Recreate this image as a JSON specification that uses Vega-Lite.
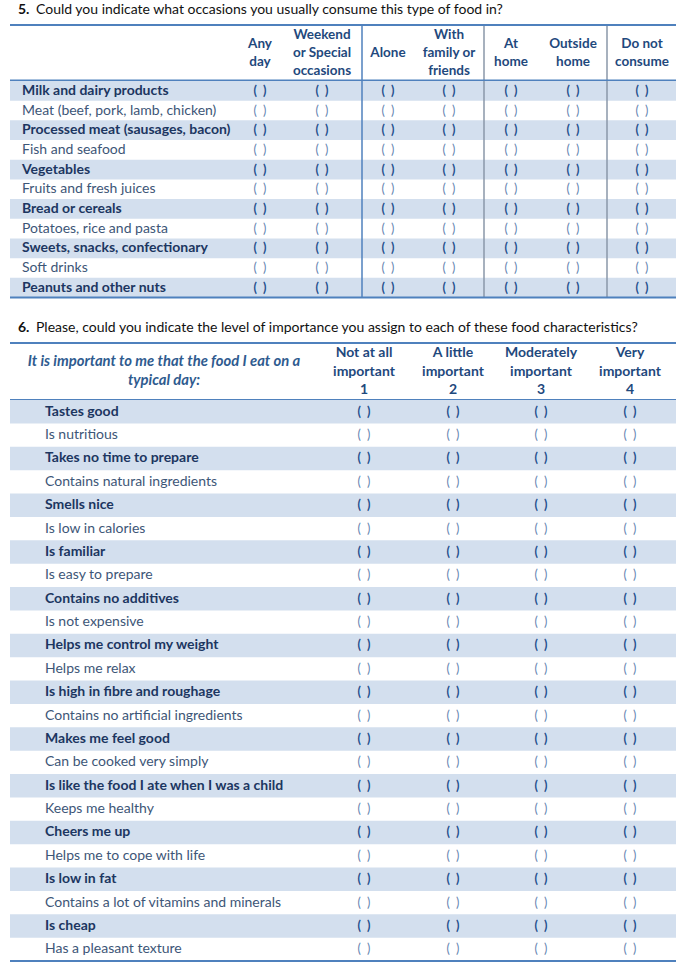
{
"$schema": "https://vega.github.io/schema/vega-lite/v6.json",
"padding": 0,
"spacing": 0,
"bounds": "flush",
"background": "white",
"config": {"view": {"stroke": null}, "text": {"font": "Lato", "fontSize": 14}, "concat": {"spacing": 0}},
"datasets": {
 "t5": [{"n": "5.", "q": "Could you indicate what occasions you usually consume this type of food in?"}],
 "t6": [{"n": "6.", "q": "Please, could you indicate the level of importance you assign to each of these food characteristics?"}],
 "frame": [{"e": 0}, {"e": 1}],
 "h5": [
  {"c": 1, "l": 1.5, "h": "Any"}, {"c": 1, "l": 2.5, "h": "day"},
  {"c": 2, "l": 1, "h": "Weekend"}, {"c": 2, "l": 2, "h": "or Special"}, {"c": 2, "l": 3, "h": "occasions"},
  {"c": 3, "l": 2, "h": "Alone"},
  {"c": 4, "l": 1, "h": "With"}, {"c": 4, "l": 2, "h": "family or"}, {"c": 4, "l": 3, "h": "friends"},
  {"c": 5, "l": 1.5, "h": "At"}, {"c": 5, "l": 2.5, "h": "home"},
  {"c": 6, "l": 1.5, "h": "Outside"}, {"c": 6, "l": 2.5, "h": "home"},
  {"c": 7, "l": 1.5, "h": "Do not"}, {"c": 7, "l": 2.5, "h": "consume"}
 ],
 "v5": [{"c": 2.5, "k": 1}, {"c": 4.5, "k": 2}, {"c": 6.5, "k": 2}],
 "i5": [
  {"r": 1, "t": "Milk and dairy products", "o": [1,2,3,4,5,6,7]},
  {"r": 2, "t": "Meat (beef, pork, lamb, chicken)", "o": [1,2,3,4,5,6,7]},
  {"r": 3, "t": "Processed meat (sausages, bacon)", "o": [1,2,3,4,5,6,7]},
  {"r": 4, "t": "Fish and seafood", "o": [1,2,3,4,5,6,7]},
  {"r": 5, "t": "Vegetables", "o": [1,2,3,4,5,6,7]},
  {"r": 6, "t": "Fruits and fresh juices", "o": [1,2,3,4,5,6,7]},
  {"r": 7, "t": "Bread or cereals", "o": [1,2,3,4,5,6,7]},
  {"r": 8, "t": "Potatoes, rice and pasta", "o": [1,2,3,4,5,6,7]},
  {"r": 9, "t": "Sweets, snacks, confectionary", "o": [1,2,3,4,5,6,7]},
  {"r": 10, "t": "Soft drinks", "o": [1,2,3,4,5,6,7]},
  {"r": 11, "t": "Peanuts and other nuts", "o": [1,2,3,4,5,6,7]}
 ],
 "h6": [
  {"c": 0.5, "l": 1.5, "h": "It is important to me that the food I eat on a"},
  {"c": 0.5, "l": 2.5, "h": "typical day:"},
  {"c": 1, "l": 1, "h": "Not at all"}, {"c": 1, "l": 2, "h": "important"}, {"c": 1, "l": 3, "h": "1"},
  {"c": 2, "l": 1, "h": "A little"}, {"c": 2, "l": 2, "h": "important"}, {"c": 2, "l": 3, "h": "2"},
  {"c": 3, "l": 1, "h": "Moderately"}, {"c": 3, "l": 2, "h": "important"}, {"c": 3, "l": 3, "h": "3"},
  {"c": 4, "l": 1, "h": "Very"}, {"c": 4, "l": 2, "h": "important"}, {"c": 4, "l": 3, "h": "4"}
 ],
 "i6": [
  {"r": 1, "t": "Tastes good", "o": [1,2,3,4]},
  {"r": 2, "t": "Is nutritious", "o": [1,2,3,4]},
  {"r": 3, "t": "Takes no time to prepare", "o": [1,2,3,4]},
  {"r": 4, "t": "Contains natural ingredients", "o": [1,2,3,4]},
  {"r": 5, "t": "Smells nice", "o": [1,2,3,4]},
  {"r": 6, "t": "Is low in calories", "o": [1,2,3,4]},
  {"r": 7, "t": "Is familiar", "o": [1,2,3,4]},
  {"r": 8, "t": "Is easy to prepare", "o": [1,2,3,4]},
  {"r": 9, "t": "Contains no additives", "o": [1,2,3,4]},
  {"r": 10, "t": "Is not expensive", "o": [1,2,3,4]},
  {"r": 11, "t": "Helps me control my weight", "o": [1,2,3,4]},
  {"r": 12, "t": "Helps me relax", "o": [1,2,3,4]},
  {"r": 13, "t": "Is high in fibre and roughage", "o": [1,2,3,4]},
  {"r": 14, "t": "Contains no artificial ingredients", "o": [1,2,3,4]},
  {"r": 15, "t": "Makes me feel good", "o": [1,2,3,4]},
  {"r": 16, "t": "Can be cooked very simply", "o": [1,2,3,4]},
  {"r": 17, "t": "Is like the food I ate when I was a child", "o": [1,2,3,4]},
  {"r": 18, "t": "Keeps me healthy", "o": [1,2,3,4]},
  {"r": 19, "t": "Cheers me up", "o": [1,2,3,4]},
  {"r": 20, "t": "Helps me to cope with life", "o": [1,2,3,4]},
  {"r": 21, "t": "Is low in fat", "o": [1,2,3,4]},
  {"r": 22, "t": "Contains a lot of vitamins and minerals", "o": [1,2,3,4]},
  {"r": 23, "t": "Is cheap", "o": [1,2,3,4]},
  {"r": 24, "t": "Has a pleasant texture", "o": [1,2,3,4]}
 ]
},
"vconcat": [
 {
  "width": 685, "height": 25,
  "data": {"name": "t5"},
  "layer": [
   {"mark": {"type": "text", "align": "left", "baseline": "middle", "fontWeight": "bold", "fontSize": 14, "color": "#111111", "dx": 8, "dy": -2.5},
    "encoding": {"x": {"datum": -1, "type": "quantitative", "axis": null, "scale": {"type": "linear", "domain": [-1,0,1,2,2.5,3,4,4.5,5,6,6.5,7,8], "range": [10,22,260,322,362,388,449,484,511,573,607,642,676], "nice": false, "zero": false}}, "text": {"field": "n"}}},
   {"mark": {"type": "text", "align": "left", "baseline": "middle", "fontSize": 14, "color": "#111111", "dx": 26, "dy": -2.5},
    "encoding": {"x": {"datum": -1, "type": "quantitative", "axis": null, "scale": {"type": "linear", "domain": [-1,0,1,2,2.5,3,4,4.5,5,6,6.5,7,8], "range": [10,22,260,322,362,388,449,484,511,573,607,642,676], "nice": false, "zero": false}}, "text": {"field": "q"}}}
  ]
 },
 {
  "width": 685, "height": 55.5,
  "resolve": {"scale": {"y": "independent"}},
  "layer": [
   {"data": {"name": "v5"},
    "mark": {"type": "rule", "strokeWidth": 1.5},
    "encoding": {"x": {"field": "c", "type": "quantitative", "axis": null, "scale": {"type": "linear", "domain": [-1,0,1,2,2.5,3,4,4.5,5,6,6.5,7,8], "range": [10,22,260,322,362,388,449,484,511,573,607,642,676], "nice": false, "zero": false}},
     "color": {"condition": {"test": "datum.k == 1", "value": "#4F81BD"}, "value": "#8A97A8"}}},
   {"data": {"name": "frame"},
    "mark": {"type": "rule", "strokeWidth": 2, "color": "#4F81BD"},
    "encoding": {"x": {"datum": -1, "type": "quantitative", "axis": null, "scale": {"type": "linear", "domain": [-1,0,1,2,2.5,3,4,4.5,5,6,6.5,7,8], "range": [10,22,260,322,362,388,449,484,511,573,607,642,676], "nice": false, "zero": false}},
     "x2": {"datum": 8},
     "y": {"field": "e", "type": "quantitative", "axis": null, "scale": {"type": "linear", "domain": [0, 1], "reverse": true, "nice": false, "zero": false}}}},
   {"data": {"name": "h5"},
    "mark": {"type": "text", "align": "center", "baseline": "middle", "fontWeight": "bold", "fontSize": 13.5, "color": "#1F497D"},
    "encoding": {"x": {"field": "c", "type": "quantitative", "axis": null, "scale": {"type": "linear", "domain": [-1,0,1,2,2.5,3,4,4.5,5,6,6.5,7,8], "range": [10,22,260,322,362,388,449,484,511,573,607,642,676], "nice": false, "zero": false}},
     "y": {"field": "l", "type": "quantitative", "axis": null, "scale": {"type": "linear", "domain": [0, 4], "range": [-8, 64], "nice": false, "zero": false}},
     "text": {"field": "h"}}}
  ]
 },
 {
  "width": 685, "height": 216.5,
  "data": {"name": "i5"},
  "layer": [
   {"transform": [{"filter": "datum.r % 2 == 1"}],
    "mark": {"type": "rect", "color": "#D3DFEE"},
    "encoding": {"x": {"datum": -1, "type": "quantitative", "axis": null, "scale": {"type": "linear", "domain": [-1,0,1,2,2.5,3,4,4.5,5,6,6.5,7,8], "range": [10,22,260,322,362,388,449,484,511,573,607,642,676], "nice": false, "zero": false}},
     "x2": {"datum": 8},
     "y": {"field": "r", "type": "ordinal", "axis": null, "scale": {"type": "band", "paddingInner": 0, "paddingOuter": 0}}}},
   {"data": {"name": "v5"},
    "mark": {"type": "rule", "strokeWidth": 1.5},
    "encoding": {"x": {"field": "c", "type": "quantitative", "axis": null, "scale": {"type": "linear", "domain": [-1,0,1,2,2.5,3,4,4.5,5,6,6.5,7,8], "range": [10,22,260,322,362,388,449,484,511,573,607,642,676], "nice": false, "zero": false}},
     "color": {"condition": {"test": "datum.k == 1", "value": "#4F81BD"}, "value": "#8A97A8"}}},
   {"transform": [{"filter": "datum.r == 11"}],
    "mark": {"type": "rule", "strokeWidth": 2, "color": "#4F81BD"},
    "encoding": {"x": {"datum": -1, "type": "quantitative", "axis": null, "scale": {"type": "linear", "domain": [-1,0,1,2,2.5,3,4,4.5,5,6,6.5,7,8], "range": [10,22,260,322,362,388,449,484,511,573,607,642,676], "nice": false, "zero": false}},
     "x2": {"datum": 8},
     "y": {"field": "r", "type": "ordinal", "bandPosition": 1, "axis": null}}},
   {"transform": [{"filter": "datum.r % 2 == 1"}],
    "mark": {"type": "text", "align": "left", "baseline": "middle", "fontWeight": "bold", "color": "#1C3661"},
    "encoding": {"x": {"datum": 0, "type": "quantitative", "axis": null, "scale": {"type": "linear", "domain": [-1,0,1,2,2.5,3,4,4.5,5,6,6.5,7,8], "range": [10,22,260,322,362,388,449,484,511,573,607,642,676], "nice": false, "zero": false}},
     "y": {"field": "r", "type": "ordinal", "axis": null}, "text": {"field": "t"}}},
   {"transform": [{"filter": "datum.r % 2 == 0"}],
    "mark": {"type": "text", "align": "left", "baseline": "middle", "color": "#3D5677"},
    "encoding": {"x": {"datum": 0, "type": "quantitative", "axis": null, "scale": {"type": "linear", "domain": [-1,0,1,2,2.5,3,4,4.5,5,6,6.5,7,8], "range": [10,22,260,322,362,388,449,484,511,573,607,642,676], "nice": false, "zero": false}},
     "y": {"field": "r", "type": "ordinal", "axis": null}, "text": {"field": "t"}}},
   {"transform": [{"flatten": ["o"]}, {"filter": "datum.r % 2 == 1"}],
    "mark": {"type": "text", "align": "center", "baseline": "middle", "fontWeight": "bold", "fontSize": 12.5, "color": "#234E8C"},
    "encoding": {"x": {"field": "o", "type": "quantitative", "axis": null, "scale": {"type": "linear", "domain": [-1,0,1,2,2.5,3,4,4.5,5,6,6.5,7,8], "range": [10,22,260,322,362,388,449,484,511,573,607,642,676], "nice": false, "zero": false}},
     "y": {"field": "r", "type": "ordinal", "axis": null}, "text": {"value": "(\u2002)"}}},
   {"transform": [{"flatten": ["o"]}, {"filter": "datum.r % 2 == 0"}],
    "mark": {"type": "text", "align": "center", "baseline": "middle", "fontSize": 12.5, "color": "#6583B0"},
    "encoding": {"x": {"field": "o", "type": "quantitative", "axis": null, "scale": {"type": "linear", "domain": [-1,0,1,2,2.5,3,4,4.5,5,6,6.5,7,8], "range": [10,22,260,322,362,388,449,484,511,573,607,642,676], "nice": false, "zero": false}},
     "y": {"field": "r", "type": "ordinal", "axis": null}, "text": {"value": "(\u2002)"}}}
  ]
 },
 {
  "width": 685, "height": 45,
  "data": {"name": "t6"},
  "layer": [
   {"mark": {"type": "text", "align": "left", "baseline": "middle", "fontWeight": "bold", "fontSize": 14, "color": "#111111", "dx": 8, "dy": 7.5},
    "encoding": {"x": {"datum": -1, "type": "quantitative", "axis": null, "scale": {"type": "linear", "domain": [-1,0,0.5,1,2,3,4,5], "range": [10,45,164,364,453,541,630,676], "nice": false, "zero": false}}, "text": {"field": "n"}}},
   {"mark": {"type": "text", "align": "left", "baseline": "middle", "fontSize": 14, "color": "#111111", "dx": 26, "dy": 7.5},
    "encoding": {"x": {"datum": -1, "type": "quantitative", "axis": null, "scale": {"type": "linear", "domain": [-1,0,0.5,1,2,3,4,5], "range": [10,45,164,364,453,541,630,676], "nice": false, "zero": false}}, "text": {"field": "q"}}}
  ]
 },
 {
  "width": 685, "height": 57,
  "resolve": {"scale": {"y": "independent"}},
  "layer": [
   {"data": {"name": "frame"},
    "mark": {"type": "rule", "strokeWidth": 2, "color": "#4F81BD"},
    "encoding": {"x": {"datum": -1, "type": "quantitative", "axis": null, "scale": {"type": "linear", "domain": [-1,0,0.5,1,2,3,4,5], "range": [10,45,164,364,453,541,630,676], "nice": false, "zero": false}},
     "x2": {"datum": 5},
     "y": {"field": "e", "type": "quantitative", "axis": null, "scale": {"type": "linear", "domain": [0, 1], "reverse": true, "nice": false, "zero": false}}}},
   {"data": {"name": "h6"},
    "transform": [{"filter": "datum.c >= 1"}],
    "mark": {"type": "text", "align": "center", "baseline": "middle", "fontWeight": "bold", "fontSize": 14, "color": "#1F497D"},
    "encoding": {"x": {"field": "c", "type": "quantitative", "axis": null, "scale": {"type": "linear", "domain": [-1,0,0.5,1,2,3,4,5], "range": [10,45,164,364,453,541,630,676], "nice": false, "zero": false}},
     "y": {"field": "l", "type": "quantitative", "axis": null, "scale": {"type": "linear", "domain": [0, 4], "range": [-8.5, 65.5], "nice": false, "zero": false}},
     "text": {"field": "h"}}},
   {"data": {"name": "h6"},
    "transform": [{"filter": "datum.c < 1"}],
    "mark": {"type": "text", "align": "center", "baseline": "middle", "fontWeight": "bold", "fontStyle": "italic", "fontSize": 14.8, "color": "#2F5B8F"},
    "encoding": {"x": {"field": "c", "type": "quantitative", "axis": null, "scale": {"type": "linear", "domain": [-1,0,0.5,1,2,3,4,5], "range": [10,45,164,364,453,541,630,676], "nice": false, "zero": false}},
     "y": {"field": "l", "type": "quantitative", "axis": null, "scale": {"type": "linear", "domain": [0, 4], "range": [-8.5, 65.5], "nice": false, "zero": false}},
     "text": {"field": "h"}}}
  ]
 },
 {
  "width": 685, "height": 561,
  "data": {"name": "i6"},
  "layer": [
   {"transform": [{"filter": "datum.r % 2 == 1"}],
    "mark": {"type": "rect", "color": "#D3DFEE"},
    "encoding": {"x": {"datum": -1, "type": "quantitative", "axis": null, "scale": {"type": "linear", "domain": [-1,0,0.5,1,2,3,4,5], "range": [10,45,164,364,453,541,630,676], "nice": false, "zero": false}},
     "x2": {"datum": 5},
     "y": {"field": "r", "type": "ordinal", "axis": null, "scale": {"type": "band", "paddingInner": 0, "paddingOuter": 0}}}},
   {"transform": [{"filter": "datum.r == 24"}],
    "mark": {"type": "rule", "strokeWidth": 2, "color": "#4F81BD"},
    "encoding": {"x": {"datum": -1, "type": "quantitative", "axis": null, "scale": {"type": "linear", "domain": [-1,0,0.5,1,2,3,4,5], "range": [10,45,164,364,453,541,630,676], "nice": false, "zero": false}},
     "x2": {"datum": 5},
     "y": {"field": "r", "type": "ordinal", "bandPosition": 1, "axis": null}}},
   {"transform": [{"filter": "datum.r % 2 == 1"}],
    "mark": {"type": "text", "align": "left", "baseline": "middle", "fontWeight": "bold", "color": "#1C3661"},
    "encoding": {"x": {"datum": 0, "type": "quantitative", "axis": null, "scale": {"type": "linear", "domain": [-1,0,0.5,1,2,3,4,5], "range": [10,45,164,364,453,541,630,676], "nice": false, "zero": false}},
     "y": {"field": "r", "type": "ordinal", "axis": null}, "text": {"field": "t"}}},
   {"transform": [{"filter": "datum.r % 2 == 0"}],
    "mark": {"type": "text", "align": "left", "baseline": "middle", "color": "#3D5677"},
    "encoding": {"x": {"datum": 0, "type": "quantitative", "axis": null, "scale": {"type": "linear", "domain": [-1,0,0.5,1,2,3,4,5], "range": [10,45,164,364,453,541,630,676], "nice": false, "zero": false}},
     "y": {"field": "r", "type": "ordinal", "axis": null}, "text": {"field": "t"}}},
   {"transform": [{"flatten": ["o"]}, {"filter": "datum.r % 2 == 1"}],
    "mark": {"type": "text", "align": "center", "baseline": "middle", "fontWeight": "bold", "fontSize": 12.5, "color": "#234E8C"},
    "encoding": {"x": {"field": "o", "type": "quantitative", "axis": null, "scale": {"type": "linear", "domain": [-1,0,0.5,1,2,3,4,5], "range": [10,45,164,364,453,541,630,676], "nice": false, "zero": false}},
     "y": {"field": "r", "type": "ordinal", "axis": null}, "text": {"value": "(\u2002)"}}},
   {"transform": [{"flatten": ["o"]}, {"filter": "datum.r % 2 == 0"}],
    "mark": {"type": "text", "align": "center", "baseline": "middle", "fontSize": 12.5, "color": "#6583B0"},
    "encoding": {"x": {"field": "o", "type": "quantitative", "axis": null, "scale": {"type": "linear", "domain": [-1,0,0.5,1,2,3,4,5], "range": [10,45,164,364,453,541,630,676], "nice": false, "zero": false}},
     "y": {"field": "r", "type": "ordinal", "axis": null}, "text": {"value": "(\u2002)"}}}
  ]
 }
]
}
